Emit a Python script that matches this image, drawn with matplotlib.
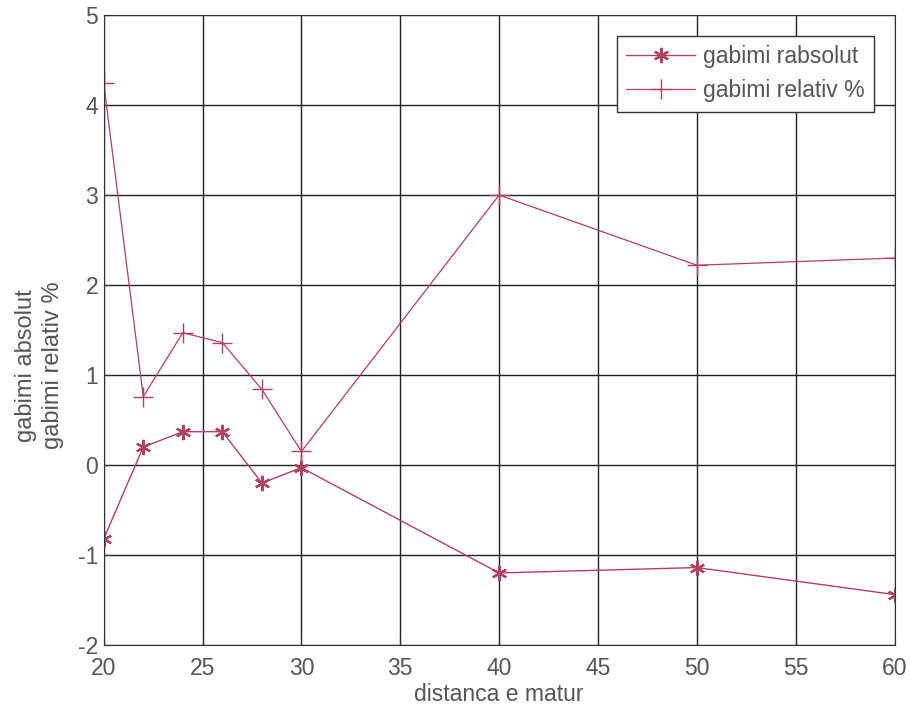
import matplotlib
matplotlib.use("Agg")
from matplotlib import pyplot as plt

plt.rcParams["font.family"] = ["Liberation Sans", "DejaVu Sans"]
plt.rcParams["axes.unicode_minus"] = False

# distance values and errors
distanca = [20, 22, 24, 26, 28, 30, 40, 50, 60]
gabimi_absolut = [-0.82, 0.20, 0.37, 0.37, -0.20, -0.03, -1.20, -1.14, -1.44]
gabimi_relativ = [4.24, 0.76, 1.47, 1.36, 0.84, 0.15, 3.00, 2.22, 2.30]

color = "#b3405c"
textcolor = "#555555"
fs = 16.5

fig = plt.figure(figsize=(9.1, 7.19), dpi=100)
ax = fig.add_axes([0.114, 0.103, 0.869, 0.876])

# matlab style asterisk
ax.plot(distanca, gabimi_absolut, color=color, lw=1.0, marker=(6, 2, 0),
        markersize=11, markeredgewidth=1.6, label="gabimi rabsolut")
ax.plot(distanca, gabimi_relativ, color=color, lw=0.9, marker="+",
        markersize=15, markeredgewidth=1.0, label="gabimi relativ %")

ax.set_xlim(20, 60)
ax.set_ylim(-2, 5)
ax.set_xticks(range(20, 61, 5))
ax.set_yticks(range(-2, 6))
ax.grid(True, color="#222222", lw=1.0)
ax.tick_params(direction="in", labelsize=fs, labelcolor=textcolor,
               color="#333333", length=5)
ax.tick_params(axis="x", pad=9)
ax.tick_params(axis="y", pad=4)
for s in ax.spines.values():
    s.set_color("#333333")

ax.set_xlabel("distanca e matur", fontsize=fs, color=textcolor, labelpad=2)
ax.set_ylabel("gabimi absolut\ngabimi relativ %", fontsize=17,
              color=textcolor, linespacing=1.3)
ax.yaxis.set_label_coords(-0.050, 0.444)

leg = ax.legend(loc="upper right", fontsize=fs, fancybox=False,
                framealpha=1, edgecolor="#333333", handlelength=3.0,
                handletextpad=0.35, borderaxespad=0.9,
                labelcolor=textcolor)
leg.get_frame().set_linewidth(1.0)

fig.savefig("out.png")
